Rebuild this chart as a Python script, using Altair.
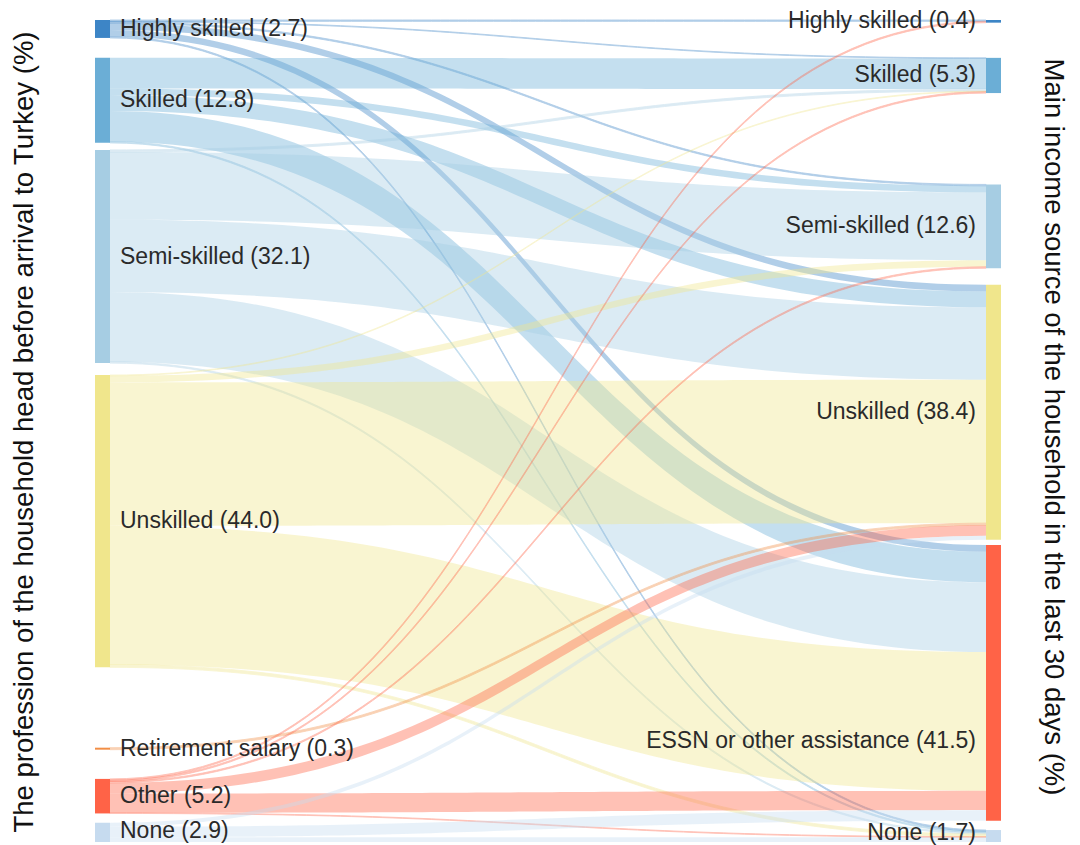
import altair as alt
import numpy as np
import pandas as pd

# ---------------- data ----------------
left_names = ["Highly skilled", "Skilled", "Semi-skilled", "Unskilled",
              "Retirement salary", "Other", "None"]
left_values = [2.7, 12.8, 32.1, 44.0, 0.3, 5.2, 2.9]
right_names = ["Highly skilled", "Skilled", "Semi-skilled", "Unskilled",
               "ESSN or other assistance", "None"]
right_values = [0.4, 5.3, 12.6, 38.4, 41.5, 1.7]

# flows from each left node to the right nodes (in right_names order)
flow_highly_skilled = [0.2, 0.1, 0.2, 1.0, 1.0, 0.2]
flow_skilled = [0.0, 4.6, 1.0, 2.4, 4.6, 0.2]
flow_semi_skilled = [0.0, 0.3, 10.2, 10.9, 10.5, 0.2]
flow_unskilled = [0.0, 0.1, 1.0, 21.6, 20.9, 0.4]
flow_retirement = [0.0, 0.0, 0.0, 0.3, 0.0, 0.0]
flow_other = [0.2, 0.2, 0.2, 1.6, 2.9, 0.1]
flow_none = [0.0, 0.0, 0.0, 0.6, 1.6, 0.7]

left_colors = ["#3d85c6", "#6baed6", "#a6cde3", "#f0e68c", "#f28e45", "#ff6347", "#c6dbef"]
right_colors = ["#3d85c6", "#6baed6", "#a6cde3", "#f0e68c", "#ff6347", "#c6dbef"]

left_title = "The profession of the household head before arrival to Turkey (%)"
right_title = "Main income source of the household in the last 30 days (%)"

# layout (gap before each node, in % units) and label vertical shifts (% units)
left_gaps = [0, 3.0, 1.06, 1.8, 12.1, 4.4, 1.4]
right_gaps = [0, 5.3, 13.76, 2.5, 0.8, 1.4]
left_label_shift = [0, 0, 0, 0, 0, 0, -0.2]
right_label_shift = [0, 0, 0, 0, 8.8, -0.4]

# ---------------- layout ----------------
flows = [flow_highly_skilled, flow_skilled, flow_semi_skilled, flow_unskilled,
         flow_retirement, flow_other, flow_none]
nL, nR = len(left_names), len(right_names)
left_size = [sum(r) for r in flows]
right_size = [sum(flows[s][t] for s in range(nL)) for t in range(nR)]


def tops(sizes, gaps):
    out, y = [], 0.0
    for v, g in zip(sizes, gaps):
        y += g
        out.append(y)
        y += v
    return out


ltop = tops(left_size, left_gaps)
rtop = tops(right_size, right_gaps)
T = max(ltop[-1] + left_size[-1], rtop[-1] + right_size[-1])

NODE_W = 15 / 906
x0, x1 = NODE_W, 1 - NODE_W
xm = 0.5
ts = np.linspace(0, 1, 80)
bx = (1 - ts) ** 3 * x0 + 3 * (1 - ts) ** 2 * ts * xm + 3 * (1 - ts) * ts ** 2 * xm + ts ** 3 * x1
by = 3 * ts ** 2 - 2 * ts ** 3

rows = []
lid = 0
for s in range(nL):
    for t in range(nR):
        v = flows[s][t]
        if v <= 0:
            continue
        ys = ltop[s] + sum(flows[s][:t])
        yt = rtop[t] + sum(flows[k][t] for k in range(s))
        yy = ys + (yt - ys) * by
        sw = 0.9 if v < 0.5 else 0.0
        for xx, yv in zip(bx, yy):
            rows.append({"link": lid, "src": left_names[s] + "_L", "x": xx, "y": yv,
                         "y2": yv + v, "sw": sw})
        lid += 1
links_df = pd.DataFrame(rows)

nodes = []
for i in range(nL):
    nodes.append({"x": 0.0, "x2": NODE_W, "y": ltop[i], "y2": ltop[i] + left_size[i], "c": left_colors[i]})
for i in range(nR):
    nodes.append({"x": 1 - NODE_W, "x2": 1.0, "y": rtop[i], "y2": rtop[i] + right_size[i], "c": right_colors[i]})
nodes_df = pd.DataFrame(nodes)

llab = pd.DataFrame({
    "x": [NODE_W] * nL,
    "y": [ltop[i] + left_size[i] / 2 + left_label_shift[i] for i in range(nL)],
    "t": [f"{n} ({v:.1f})" for n, v in zip(left_names, left_values)],
})
rlab = pd.DataFrame({
    "x": [1 - NODE_W] * nR,
    "y": [rtop[i] + right_size[i] / 2 + right_label_shift[i] for i in range(nR)],
    "t": [f"{n} ({v:.1f})" for n, v in zip(right_names, right_values)],
})

xs = alt.Scale(domain=[0, 1], range=[87, 993], nice=False, zero=False)
ysc = alt.Scale(domain=[0, T], range=[12, 834], nice=False, zero=False)
src_scale = alt.Scale(domain=[n + "_L" for n in left_names], range=left_colors)

links = alt.Chart(links_df).mark_area(opacity=0.4, orient="vertical", interpolate="linear").encode(
    x=alt.X("x:Q", scale=xs, axis=None),
    y=alt.Y("y:Q", scale=ysc, axis=None, stack=None),
    y2="y2:Q",
    color=alt.Color("src:N", scale=src_scale, legend=None),
    stroke=alt.Stroke("src:N", scale=src_scale, legend=None),
    strokeWidth=alt.StrokeWidth("sw:Q", scale=None),
    detail="link:N",
)

node_marks = alt.Chart(nodes_df).mark_rect().encode(
    x=alt.X("x:Q", scale=xs, axis=None), x2="x2:Q",
    y=alt.Y("y:Q", scale=ysc, axis=None), y2="y2:Q",
    color=alt.Color("c:N", scale=None),
)

FONT = "Liberation Sans"
left_labels = alt.Chart(llab).mark_text(align="left", baseline="middle", dx=10, fontSize=23,
                                        font=FONT, color="#2a2a2a").encode(
    x=alt.X("x:Q", scale=xs, axis=None), y=alt.Y("y:Q", scale=ysc, axis=None), text="t:N")
right_labels = alt.Chart(rlab).mark_text(align="right", baseline="middle", dx=-10, fontSize=23,
                                         font=FONT, color="#2a2a2a").encode(
    x=alt.X("x:Q", scale=xs, axis=None), y=alt.Y("y:Q", scale=ysc, axis=None), text="t:N")

lt = alt.Chart(pd.DataFrame({"t": [left_title]})).mark_text(
    angle=270, align="center", baseline="middle", fontSize=27.5, font=FONT, color="#111").encode(
    x=alt.value(17), y=alt.value(424), text="t:N")
rt = alt.Chart(pd.DataFrame({"t": [right_title]})).mark_text(
    angle=90, align="center", baseline="middle", fontSize=27.5, font=FONT, color="#111").encode(
    x=alt.value(1045), y=alt.value(419), text="t:N")

chart = alt.layer(links, node_marks, left_labels, right_labels, lt, rt).properties(
    width=1064, height=837, padding=0
).configure_view(stroke=None)

chart.save("out.html", embed_options={"renderer": "svg", "actions": False})
